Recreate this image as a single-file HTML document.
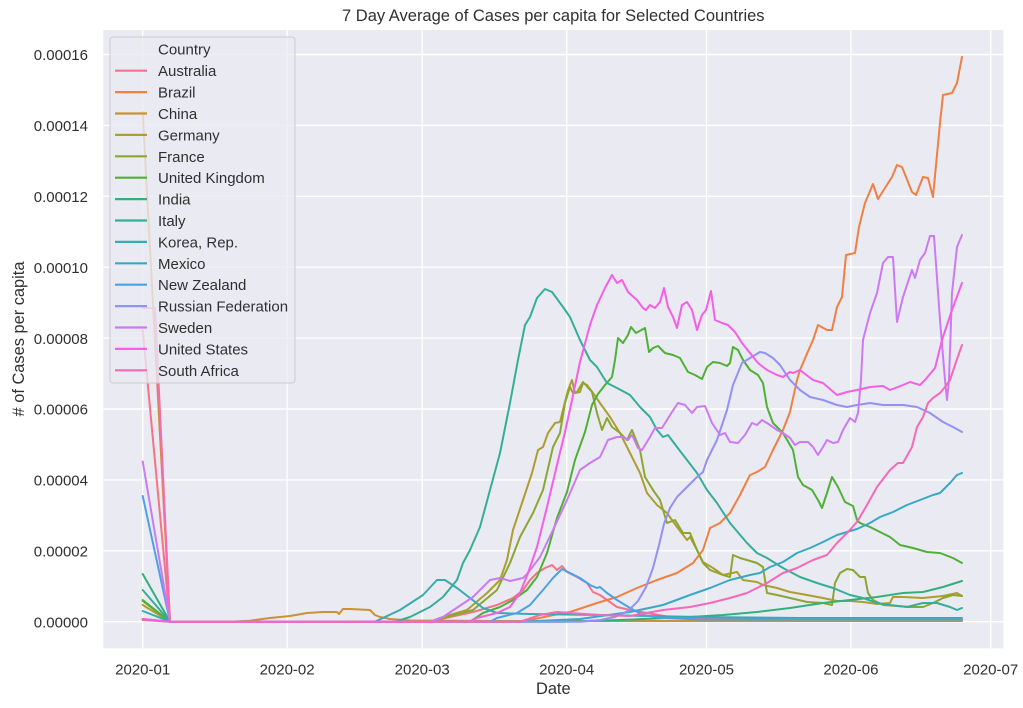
<!DOCTYPE html>
<html>
<head>
<meta charset="utf-8">
<style>
  html, body { margin: 0; padding: 0; background: #ffffff; }
  svg { display: block; }
  text { font-family: "Liberation Sans", Arial, sans-serif; fill: #303030; }
</style>
</head>
<body>
<svg width="1023" height="708" viewBox="0 0 1023 708" xmlns="http://www.w3.org/2000/svg">
  <defs>
    <clipPath id="plot">
      <rect x="103.3" y="30" width="900" height="618.3"/>
    </clipPath>
  </defs>

  <!-- plot background -->
  <rect x="103.3" y="30" width="900" height="618.3" fill="#eaeaf2"/>

  <!-- grid lines -->
  <g stroke="#ffffff" stroke-width="1.4">
    <line x1="103.3" x2="1003.3" y1="621.7" y2="621.7"/>
    <line x1="103.3" x2="1003.3" y1="550.8" y2="550.8"/>
    <line x1="103.3" x2="1003.3" y1="479.9" y2="479.9"/>
    <line x1="103.3" x2="1003.3" y1="409.0" y2="409.0"/>
    <line x1="103.3" x2="1003.3" y1="338.1" y2="338.1"/>
    <line x1="103.3" x2="1003.3" y1="267.2" y2="267.2"/>
    <line x1="103.3" x2="1003.3" y1="196.3" y2="196.3"/>
    <line x1="103.3" x2="1003.3" y1="125.4" y2="125.4"/>
    <line x1="103.3" x2="1003.3" y1="54.5" y2="54.5"/>
    <line x1="142.7" x2="142.7" y1="30" y2="648.3"/>
    <line x1="287.1" x2="287.1" y1="30" y2="648.3"/>
    <line x1="422.2" x2="422.2" y1="30" y2="648.3"/>
    <line x1="566.7" x2="566.7" y1="30" y2="648.3"/>
    <line x1="706.5" x2="706.5" y1="30" y2="648.3"/>
    <line x1="850.9" x2="850.9" y1="30" y2="648.3"/>
    <line x1="990.7" x2="990.7" y1="30" y2="648.3"/>
  </g>

  <!-- series -->
  <g clip-path="url(#plot)" fill="none" stroke-width="2" stroke-linejoin="round" stroke-linecap="round">
    <!-- Australia -->
    <polyline stroke="#f77189" points="142.7,330 170,621.7 430,621.7 450,617 473,612 497,605 513,598 523,590 530,580 537,573 545,568 552,565 557,570 562,566 567,572 577,577 587,583 593,592 600,595 607,600 617,607 630,610 647,613 670,617 697,618 750,619 850,619.5 962,619.5"/>
    <!-- Brazil -->
    <polyline stroke="#f07f42" points="142.7,620 170,621.7 520,621.7 530,620 563,613 570,612 597,603 617,597 637,588 657,580 677,573 693,563 703,550 710,528 720,523 730,513 740,495 750,475 757,472 765,467 773,450 783,430 790,412 797,380 800,370 806,356 813,340 818,325 827,330 832,330 837,307 842,297 846,255 855,253 859,227 865,203 873,184 878,199 885,188 892,177 897,165 902,167 912,192 916,195 923,177 928,178 933,197 940,123 943,95 952,93 957,83 962,57"/>
    <!-- China -->
    <polyline stroke="#cc9132" points="142.7,112 170,621.7 230,621.7 250,620.7 270,618 290,616 307,613 323,612 337,612 339,614 343,609 350,609 370,610 375,615 380,617 390,619 410,620.5 500,621 962,621"/>
    <!-- Germany -->
    <polyline stroke="#ae9d31" points="142.7,605 170,621.7 430,621.7 443,617 467,610 487,593 500,580 507,560 513,530 523,500 532,473 538,450 543,447 548,433 555,423 560,422 563,410 568,390 572,380 575,393 580,392 583,383 587,385 593,393 600,403 610,417 620,433 630,453 640,473 647,493 657,505 667,513 677,527 687,540 690,537 697,550 703,562 713,568 723,575 737,572 743,580 757,582 763,585 777,588 790,592 807,595 823,598 837,601 850,601 863,602 877,604 890,603 893,597 903,597 923,598 943,596 957,593 962,596"/>
    <!-- France -->
    <polyline stroke="#8ca631" points="142.7,601 170,621.7 430,621.7 443,618 473,610 497,590 510,563 520,537 533,513 543,490 553,447 560,433 565,403 570,387 573,393 577,392 583,382 592,392 597,413 602,430 607,418 612,427 620,433 627,440 632,430 640,450 645,477 653,490 660,500 667,523 675,520 683,533 690,533 697,550 703,563 710,570 723,575 730,577 733,555 740,558 757,563 763,567 767,593 777,595 790,598 807,602 823,603 832,605 835,583 840,573 847,569 853,570 860,577 865,577 868,593 873,600 883,605 897,606 910,607 923,607 933,603 943,598 953,595 962,596"/>
    <!-- United Kingdom -->
    <polyline stroke="#4fb036" points="142.7,600 170,621.7 470,621.7 483,613 500,607 513,600 527,590 537,577 547,553 557,518 567,492 575,460 585,432 592,405 598,394 605,385 612,377 615,360 618,338 623,343 628,335 631,327 636,333 645,328 649,352 653,348 658,346 665,353 673,355 680,358 688,372 695,375 702,379 707,367 713,362 720,363 727,366 730,363 733,347 738,350 743,360 750,370 758,375 763,383 767,407 773,423 783,433 793,450 798,477 803,485 812,490 818,500 822,508 827,493 832,477 838,487 845,502 853,506 857,520 860,523 870,527 880,532 890,537 900,545 913,548 927,552 940,553 953,558 962,563"/>
    <!-- India -->
    <polyline stroke="#33b07a" points="142.7,574 170,621.7 560,621.7 620,620 690,617 723,615 757,612 790,608 823,603 850,600 877,597 903,593 923,592 943,587 962,581"/>
    <!-- Italy -->
    <polyline stroke="#35ae99" points="142.7,590 170,621.7 395,621.7 410,617 430,607 443,597 457,580 463,563 470,550 480,527 490,490 500,453 510,403 518,360 525,325 530,317 537,298 545,289 552,292 563,307 570,317 580,340 590,360 597,367 607,383 617,388 630,395 640,407 650,417 657,430 663,437 668,435 677,447 687,460 697,473 707,490 717,503 730,523 747,543 757,553 767,558 783,568 800,577 817,583 833,588 850,595 863,598 877,603 890,605 907,607 923,603 937,603 950,607 957,610 962,608"/>
    <!-- Korea, Rep. -->
    <polyline stroke="#37acaf" points="142.7,611 170,621.7 375,621.7 400,610 423,595 437,580 445,580 457,588 470,598 483,608 497,613 530,614 600,615 700,617 800,618 962,618"/>
    <!-- Mexico -->
    <polyline stroke="#38a9c5" points="142.7,619 170,621.7 520,621.7 580,619 630,612 663,605 690,595 710,588 730,580 750,575 760,573 770,567 783,562 797,553 810,548 823,542 837,535 847,532 857,529 870,523 880,517 893,512 907,505 920,500 933,495 940,493 950,483 957,475 962,473"/>
    <!-- New Zealand -->
    <polyline stroke="#4ba2e6" points="142.7,496 170,621.7 490,621.7 497,618 517,613 530,605 543,590 553,578 562,569 570,573 580,578 590,585 597,588 600,587 607,593 617,600 630,608 643,615 663,618 700,619.5 962,619.5"/>
    <!-- Russian Federation -->
    <polyline stroke="#9291f4" points="142.7,619 170,621.7 580,621.7 600,620 615,617 628,611 638,601 646,587 653,568 659,545 664,524 670,508 677,497 687,487 697,477 703,472 707,460 717,440 727,410 733,385 742,363 750,358 760,352 765,353 773,358 780,365 790,380 800,390 810,397 823,400 837,405 847,407 857,405 870,403 883,405 903,405 917,407 930,413 943,422 953,427 962,432"/>
    <!-- Sweden -->
    <polyline stroke="#cc7af4" points="142.7,461.5 170,621.7 430,621.7 443,617 473,597 490,580 500,578 510,581 523,578 528,573 540,557 553,530 567,500 580,470 590,463 600,457 608,440 617,437 623,437 628,440 632,435 638,448 642,450 650,437 655,428 662,428 672,412 678,403 685,405 692,413 697,407 705,406 712,423 720,435 725,433 730,442 738,443 745,435 752,423 757,425 762,420 770,425 777,430 783,433 790,438 795,445 800,442 808,442 813,447 818,455 823,447 827,440 833,443 838,442 843,430 850,418 855,422 858,413 861,380 863,340 870,313 877,293 883,263 888,257 893,257 897,322 903,297 912,270 915,278 920,260 925,253 930,236 934,236 940,320 945,380 947,400 949,380 952,293 957,247 962,235"/>
    <!-- United States -->
    <polyline stroke="#f45fe5" points="142.7,619 170,621.7 470,621.7 477,618 497,613 510,607 520,593 528,573 537,547 547,507 557,465 565,432 572,400 580,362 590,325 597,305 605,288 612,275 617,283 622,280 628,292 637,300 643,308 646,310 650,305 655,308 660,302 664,288 668,307 673,317 677,328 682,305 687,302 692,310 697,330 702,315 706,310 711,291 715,320 722,323 728,325 735,332 742,343 750,353 758,363 767,370 777,375 783,377 790,372 793,373 800,370 813,380 823,383 837,395 847,392 857,390 870,387 883,386 890,390 903,385 910,382 920,385 925,380 935,368 942,340 952,310 962,283"/>
    <!-- South Africa -->
    <polyline stroke="#f669b7" points="142.7,308 155,308 170,621.7 520,621.7 540,615 557,612 570,613 600,615 630,616 663,610 690,607 710,603 730,598 747,593 767,583 783,573 797,568 813,560 827,555 837,543 847,533 857,522 867,505 877,487 890,470 898,463 903,463 912,447 917,427 923,417 928,403 933,398 940,393 945,387 950,380 956,362 962,345"/>
  </g>

  <!-- legend -->
  <rect x="110" y="37" width="185" height="346" rx="3" ry="3" fill="#eaeaf2" fill-opacity="0.8" stroke="#cccccc" stroke-width="1"/>
  <g stroke-width="2.2">
    <line x1="115" x2="147" y1="70.7" y2="70.7" stroke="#f77189"/>
    <line x1="115" x2="147" y1="92.1" y2="92.1" stroke="#f07f42"/>
    <line x1="115" x2="147" y1="113.5" y2="113.5" stroke="#cc9132"/>
    <line x1="115" x2="147" y1="134.9" y2="134.9" stroke="#ae9d31"/>
    <line x1="115" x2="147" y1="156.3" y2="156.3" stroke="#8ca631"/>
    <line x1="115" x2="147" y1="177.7" y2="177.7" stroke="#4fb036"/>
    <line x1="115" x2="147" y1="199.1" y2="199.1" stroke="#33b07a"/>
    <line x1="115" x2="147" y1="220.5" y2="220.5" stroke="#35ae99"/>
    <line x1="115" x2="147" y1="241.9" y2="241.9" stroke="#37acaf"/>
    <line x1="115" x2="147" y1="263.3" y2="263.3" stroke="#38a9c5"/>
    <line x1="115" x2="147" y1="284.7" y2="284.7" stroke="#4ba2e6"/>
    <line x1="115" x2="147" y1="306.1" y2="306.1" stroke="#9291f4"/>
    <line x1="115" x2="147" y1="327.5" y2="327.5" stroke="#cc7af4"/>
    <line x1="115" x2="147" y1="348.9" y2="348.9" stroke="#f45fe5"/>
    <line x1="115" x2="147" y1="370.3" y2="370.3" stroke="#f669b7"/>
  </g>
  <g font-size="15">
    <text x="158" y="54.5">Country</text>
    <text x="158" y="76.2">Australia</text>
    <text x="158" y="97.6">Brazil</text>
    <text x="158" y="119.0">China</text>
    <text x="158" y="140.4">Germany</text>
    <text x="158" y="161.8">France</text>
    <text x="158" y="183.2">United Kingdom</text>
    <text x="158" y="204.6">India</text>
    <text x="158" y="226.0">Italy</text>
    <text x="158" y="247.4">Korea, Rep.</text>
    <text x="158" y="268.8">Mexico</text>
    <text x="158" y="290.2">New Zealand</text>
    <text x="158" y="311.6">Russian Federation</text>
    <text x="158" y="333.0">Sweden</text>
    <text x="158" y="354.4">United States</text>
    <text x="158" y="375.8">South Africa</text>
  </g>

  <!-- y tick labels -->
  <g font-size="15" text-anchor="end">
    <text x="88" y="627.4">0.00000</text>
    <text x="88" y="556.5">0.00002</text>
    <text x="88" y="485.6">0.00004</text>
    <text x="88" y="414.7">0.00006</text>
    <text x="88" y="343.8">0.00008</text>
    <text x="88" y="272.9">0.00010</text>
    <text x="88" y="202.0">0.00012</text>
    <text x="88" y="131.1">0.00014</text>
    <text x="88" y="60.2">0.00016</text>
  </g>

  <!-- x tick labels -->
  <g font-size="15" text-anchor="middle">
    <text x="142.7" y="674.3">2020-01</text>
    <text x="287.1" y="674.3">2020-02</text>
    <text x="422.2" y="674.3">2020-03</text>
    <text x="566.7" y="674.3">2020-04</text>
    <text x="706.5" y="674.3">2020-05</text>
    <text x="850.9" y="674.3">2020-06</text>
    <text x="990.7" y="674.3">2020-07</text>
  </g>

  <!-- axis labels and title -->
  <text x="553.3" y="694" font-size="16.4" text-anchor="middle">Date</text>
  <text transform="translate(24,339) rotate(-90)" x="0" y="0" font-size="16.4" text-anchor="middle"># of Cases per capita</text>
  <text x="553.3" y="21" font-size="16.5" text-anchor="middle">7 Day Average of Cases per capita for Selected Countries</text>
</svg>
</body>
</html>
